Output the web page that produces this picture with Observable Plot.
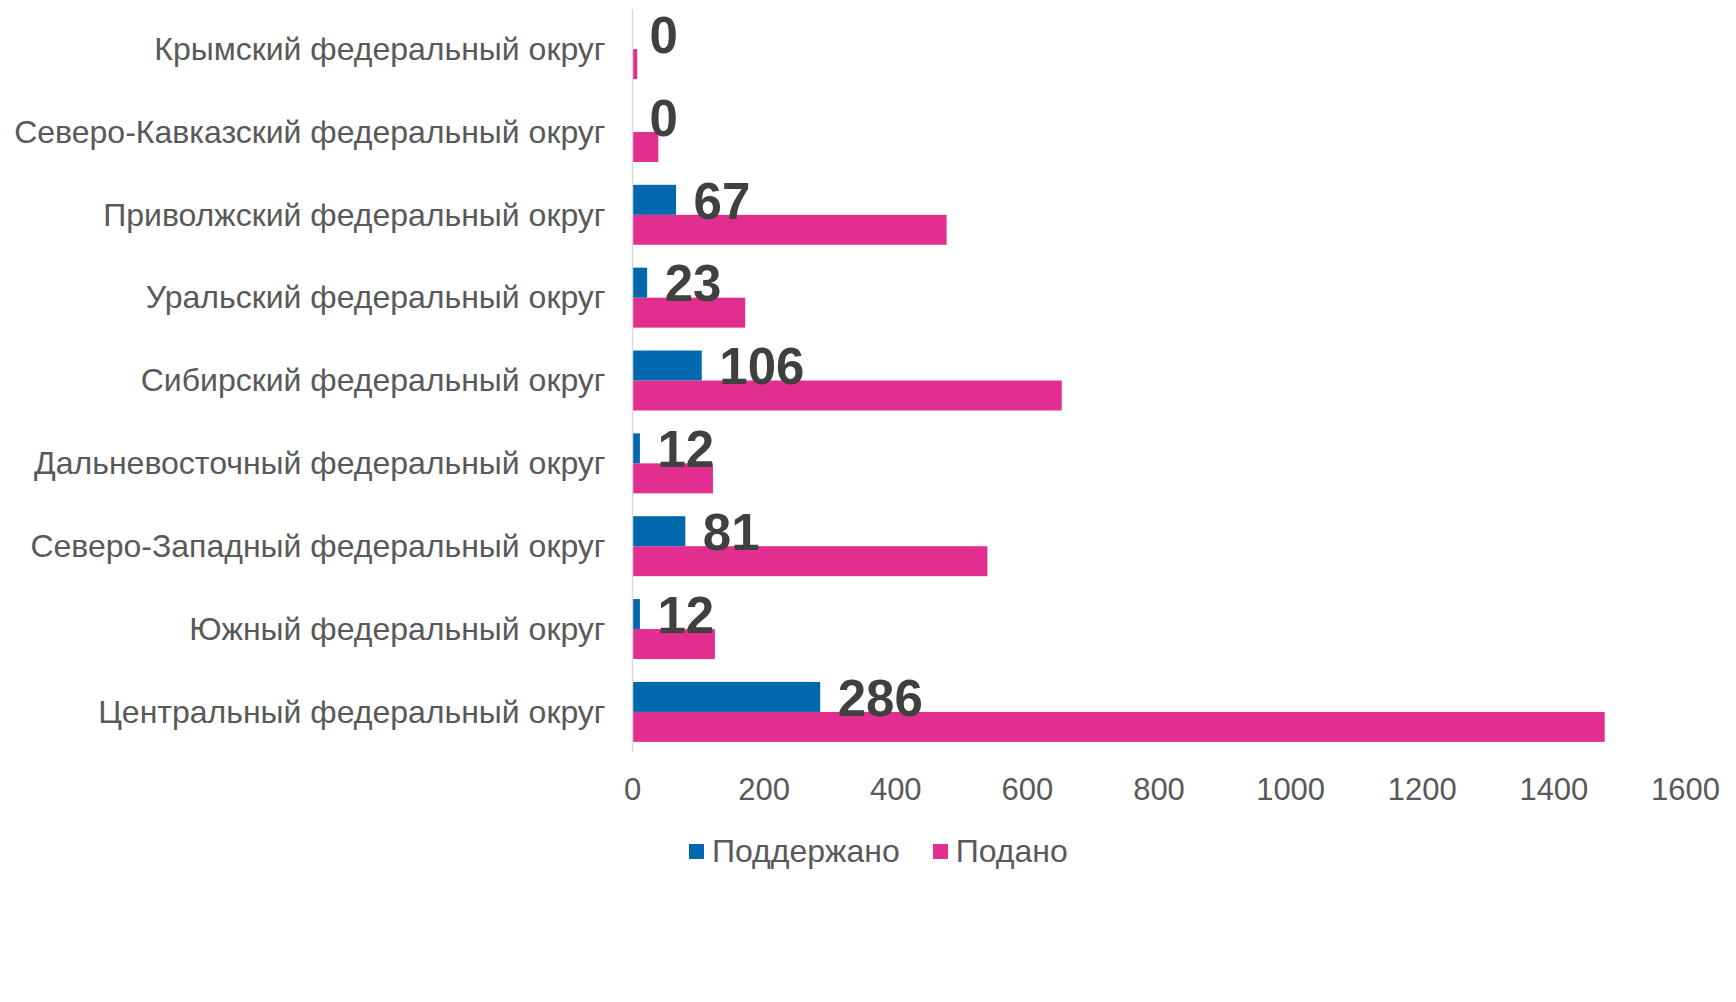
<!DOCTYPE html>
<html>
<head>
<meta charset="utf-8">
<script src="https://cdn.jsdelivr.net/npm/d3@7"></script>
<script src="https://cdn.jsdelivr.net/npm/@observablehq/plot@0.6"></script>
<style>
  html, body { margin: 0; padding: 0; background: #ffffff; }
  #chart { width: 1736px; }
  .legend { display: flex; align-items: center; font-family: "Liberation Sans", Arial, sans-serif;
            font-size: 32px; color: #595959; height: 36px; margin-top: 13px; padding-left: 689px; }
  .legend .item { display: flex; align-items: center; margin-right: 33px; }
  .legend .sw { width: 15px; height: 15px; margin-right: 8px; }
</style>
</head>
<body>
<div id="chart"></div>
<script>
const regions = [
  "Крымский федеральный округ",
  "Северо-Кавказский федеральный округ",
  "Приволжский федеральный округ",
  "Уральский федеральный округ",
  "Сибирский федеральный округ",
  "Дальневосточный федеральный округ",
  "Северо-Западный федеральный округ",
  "Южный федеральный округ",
  "Центральный федеральный округ"
];
const supported = [0, 0, 67, 23, 106, 12, 81, 12, 286];
const submitted = [8, 40, 478, 172, 653, 123, 540, 126, 1478];
const seriesNames = ["Поддержано", "Подано"];
const seriesColors = ["#0068ad", "#e22e8f"];
const xTicks = [0, 200, 400, 600, 800, 1000, 1200, 1400, 1600];

const rows = regions.map((r, i) => ({region: r, supported: supported[i], submitted: submitted[i]}));

const chart = Plot.plot({
  width: 1736,
  height: 820,
  marginTop: 9,
  marginBottom: 68,
  marginLeft: 632,
  marginRight: 51,
  style: {fontFamily: "'Liberation Sans', Arial, sans-serif", color: "#595959", background: "transparent"},
  x: {domain: [0, 1600]},
  y: {domain: regions, paddingInner: 0.276, paddingOuter: 0.122, round: false},
  marks: [
    Plot.barX(rows, {x: "submitted", y: "region", fill: seriesColors[1], insetTop: 30}),
    Plot.barX(rows, {x: "supported", y: "region", fill: seriesColors[0], insetBottom: 30}),
    Plot.ruleX([0], {stroke: "#d9d9d9", strokeWidth: 1.5}),
    Plot.axisX({ticks: xTicks, tickSize: 0, tickPadding: 25, fontSize: 31, label: null, tickFormat: d => String(d)}),
    Plot.axisY({tickSize: 0, tickPadding: 27, fontSize: 32, label: null}),
    Plot.text(rows, {x: "supported", y: "region", text: d => String(d.supported), dx: 17, dy: -13,
      textAnchor: "start", fontSize: 51, fontWeight: "bold", fill: "#404040"})
  ]
});
document.getElementById("chart").appendChild(chart);

const legend = document.createElement("div");
legend.className = "legend";
seriesNames.forEach((name, i) => {
  const item = document.createElement("div");
  item.className = "item";
  const sw = document.createElement("span");
  sw.className = "sw";
  sw.style.background = seriesColors[i];
  const t = document.createElement("span");
  t.textContent = name;
  item.appendChild(sw);
  item.appendChild(t);
  legend.appendChild(item);
});
document.getElementById("chart").appendChild(legend);
</script>
</body>
</html>
